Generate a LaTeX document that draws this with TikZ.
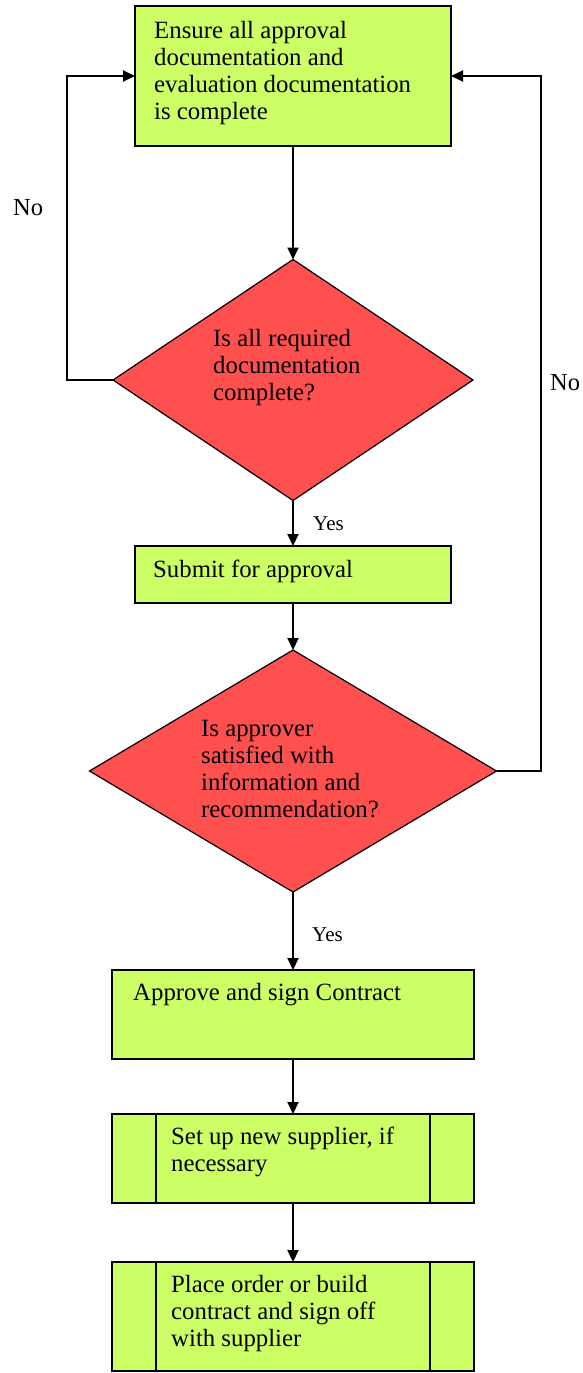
\documentclass[tikz,border=0pt]{standalone}
\usepackage{fontspec}
\setmainfont{Liberation Serif}
\usetikzlibrary{arrows.meta,shapes.geometric}
\definecolor{boxgreen}{RGB}{204,255,102}
\definecolor{decred}{RGB}{255,80,80}
\begin{document}
\begin{tikzpicture}[x=1pt,y=-1pt,
  box/.style={draw=black, line width=1.4pt, fill=boxgreen, rectangle, inner sep=0, outer sep=0},
  decision/.style={draw=black, line width=1.2pt, fill=decred, diamond, inner sep=0, outer sep=0},
  txt/.style={font=\fontsize{24.8}{27}\selectfont, align=left, inner sep=0, anchor=north west},
  yeslab/.style={font=\fontsize{21}{24}\selectfont, inner sep=0, anchor=base west},
  nolab/.style={font=\fontsize{24.5}{27}\selectfont, inner sep=0, anchor=base west},
  arr/.style={line width=2pt, -{Triangle[length=12pt,width=11pt]}},
  ln/.style={line width=2pt}]
\useasboundingbox (0,0) rectangle (582,1373);

% shapes
\node[box, minimum width=316, minimum height=140] (b1) at (293,76) {};
\node[decision, minimum width=360, minimum height=241] (d1) at (293,380) {};
\node[box, minimum width=316, minimum height=57] (b2) at (293,574.5) {};
\node[decision, minimum width=407, minimum height=242] (d2) at (293,771) {};
\node[box, minimum width=362, minimum height=89] (b3) at (293,1014.5) {};
\node[box, minimum width=362, minimum height=89] (b4) at (293,1158.5) {};
\node[box, minimum width=362, minimum height=109] (b5) at (293,1316.5) {};

% predefined-process side bars
\draw[line width=1.4pt] ([xshift=44]b4.north west) -- ([xshift=44]b4.south west);
\draw[line width=1.4pt] ([xshift=-44]b4.north east) -- ([xshift=-44]b4.south east);
\draw[line width=1.4pt] ([xshift=44]b5.north west) -- ([xshift=44]b5.south west);
\draw[line width=1.4pt] ([xshift=-44]b5.north east) -- ([xshift=-44]b5.south east);

% texts
\node[txt] (t1) at (154,19.1) {\strut Ensure all approval\\documentation and\\evaluation documentation\\is complete};
\node[txt] (t2) at (213,327.8) {\strut Is all required\\documentation\\complete?};
\node[txt] (t3) at (153,558.1) {\strut Submit for approval};
\node[txt] (t4) at (201,717.8) {\strut Is approver\\satisfied with\\information and\\recommendation?};
\node[txt] (t5) at (133,981.1) {\strut Approve and sign Contract};
\node[txt] (t6) at (171,1125.1) {\strut Set up new supplier, if\\necessary};
\node[txt] (t7) at (171,1273.1) {\strut Place order or build\\contract and sign off\\with supplier};

% connectors
\coordinate (lc) at (67,380);
\coordinate (rc) at (541,771);
\draw[arr] (b1.south) -- (d1.north);
\draw[arr] (d1.west) -- (lc) |- (b1.west);
\draw[arr] (d1.south) -- (b2.north);
\draw[arr] (b2.south) -- (d2.north);
\draw[arr] (d2.east) -- (rc) |- (b1.east);
\draw[arr] (d2.south) -- (b3.north);
\draw[arr] (b3.south) -- (b4.north);
\draw[arr] (b4.south) -- (b5.north);

% labels
\node[nolab] (no1) at (13,215) {No};
\node[nolab] (no2) at (550,390) {No};
\node[yeslab] (yes1) at (313,530) {Yes};
\node[yeslab] (yes2) at (312,941) {Yes};
\end{tikzpicture}
\end{document}
